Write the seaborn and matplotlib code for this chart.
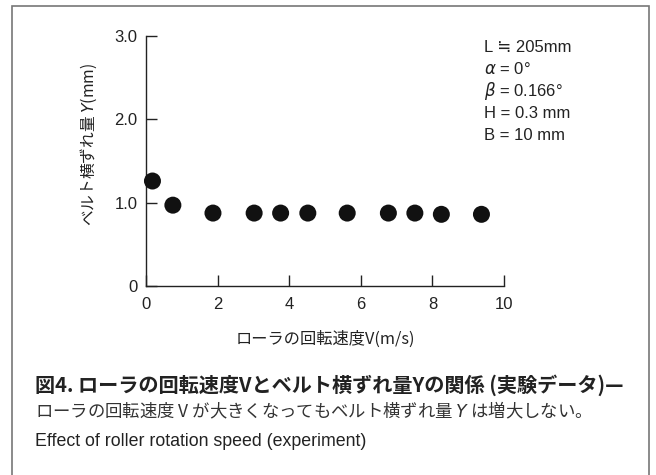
import matplotlib
matplotlib.use("Agg")
import matplotlib.pyplot as plt
import seaborn as sns
import pandas as pd
from matplotlib.patches import Rectangle

# Measured belt lateral shift versus roller speed
speed = [0.18, 0.75, 1.87, 3.02, 3.76, 4.52, 5.62, 6.77, 7.51, 8.25, 9.37]
shift = [1.26, 0.97, 0.875, 0.875, 0.875, 0.875, 0.875, 0.875, 0.875, 0.86, 0.86]

x_ticks = [0, 2, 4, 6, 8, 10]
x_tick_labels = ["0", "2", "4", "6", "8", "10"]
y_ticks = [0, 1.0, 2.0, 3.0]
y_tick_labels = ["0", "1.0", "2.0", "3.0"]

conditions = [
    "L \u2252 205mm",
    r"$\alpha$ = 0°",
    r"$\beta$ = 0.166°",
    "H = 0.3 mm",
    "B = 10 mm",
]

caption_title = "図4. ローラの回転速度Vとベルト横ずれ量Yの関係 (実験データ)—"
caption_body = "ローラの回転速度 V が大きくなってもベルト横ずれ量 $Y$ は増大しない。"
caption_en = "Effect of roller rotation speed (experiment)"

sns.set_theme(style="ticks")
plt.rcParams["font.family"] = ["Liberation Sans", "Noto Sans CJK JP", "DejaVu Sans"]
plt.rcParams["mathtext.fontset"] = "dejavusans"

df = pd.DataFrame({"V": speed, "Y": shift})

fig = plt.figure(figsize=(6.56, 4.75), dpi=100)
ax = fig.add_axes([0.2226, 0.398, 0.5457, 0.526])

sns.scatterplot(data=df, x="V", y="Y", ax=ax, color="#111111", s=150,
                edgecolor="none", linewidth=0, clip_on=False, zorder=3)

ax.set_xlim(0, 10)
ax.set_ylim(0, 3.0)
ax.set_xticks(x_ticks)
ax.set_xticklabels(x_tick_labels)
ax.set_yticks(y_ticks)
ax.set_yticklabels(y_tick_labels)
ax.tick_params(axis="both", direction="in", length=8, width=1.0,
               color="#222222", labelsize=12, labelcolor="#222222", pad=6)
ax.tick_params(axis="x", pad=8)
for side in ("top", "right"):
    ax.spines[side].set_visible(False)
for side in ("left", "bottom"):
    ax.spines[side].set_linewidth(1.0)
    ax.spines[side].set_color("#222222")

ax.set_xlabel("ローラの回転速度V(m/s)", fontsize=11.7, color="#222222",
              family=["Noto Sans CJK JP", "DejaVu Sans"])
ax.set_ylabel("ベルト横ずれ量 $Y$(mm)", fontsize=11.3, color="#222222",
              family=["Noto Sans CJK JP", "DejaVu Sans"])
ax.xaxis.set_label_coords(0.5, -0.18)
ax.yaxis.set_label_coords(-0.13, 0.568)

for i, line in enumerate(conditions):
    fig.text(484 / 656, 1 - (47 + 22 * i) / 475, line, fontsize=12,
             color="#222222", va="center", ha="left",
             family=["Liberation Sans", "DejaVu Sans"])

fig.text(35 / 656, 1 - 385 / 475, caption_title, fontsize=14.5, fontweight="bold",
         color="#222222", va="center", ha="left",
         family=["Noto Sans CJK JP", "DejaVu Sans"])
fig.text(35 / 656, 1 - 411 / 475, caption_body, fontsize=12.5,
         color="#333333", va="center", ha="left",
         family=["Noto Sans CJK JP", "DejaVu Sans"])
fig.text(35 / 656, 1 - 441 / 475, caption_en, fontsize=12.8,
         color="#222222", va="center", ha="left",
         family=["Liberation Sans", "DejaVu Sans"])

# Outer panel border, open at the bottom edge
fig.add_artist(Rectangle((11.5 / 656, -0.05), (648.5 - 11.5) / 656, 1.05 - 6 / 475,
                         transform=fig.transFigure, fill=False,
                         edgecolor="#777777", linewidth=1.2))

fig.savefig("out.png", dpi=100)
